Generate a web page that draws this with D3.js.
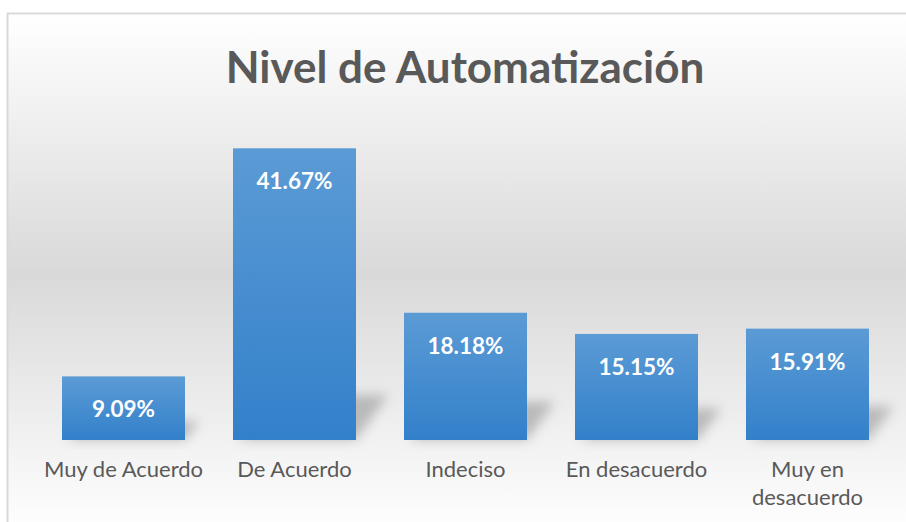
<!DOCTYPE html>
<html>
<head>
<meta charset="utf-8">
<script src="https://cdn.jsdelivr.net/npm/d3@7"></script>
<style>
  html, body { margin: 0; padding: 0; background: #ffffff; }
  svg { display: block; }
</style>
</head>
<body>
<div id="chart"></div>
<script>
// data
const categories = ['Muy de Acuerdo', 'De Acuerdo', 'Indeciso', 'En desacuerdo', 'Muy en desacuerdo'];
const values = [9.09, 41.67, 18.18, 15.15, 15.91];
const valueLabels = ['9.09%', '41.67%', '18.18%', '15.15%', '15.91%'];
const title = 'Nivel de Automatización';

const W = 906, H = 522;
const font = 'Lato, "Open Sans", sans-serif';

const svg = d3.select('#chart')
  .append('svg')
  .attr('width', W)
  .attr('height', H);

const defs = svg.append('defs');

// chart area background: white -> gray -> white
const bg = defs.append('linearGradient')
  .attr('id', 'bg')
  .attr('x1', 0).attr('y1', 0).attr('x2', 0).attr('y2', 1);
bg.append('stop').attr('offset', '0%').attr('stop-color', '#ffffff');
bg.append('stop').attr('offset', '50%').attr('stop-color', '#d9d9d9');
bg.append('stop').attr('offset', '100%').attr('stop-color', '#ffffff');

const barGrad = defs.append('linearGradient')
  .attr('id', 'barGrad')
  .attr('x1', 0).attr('y1', 0).attr('x2', 0).attr('y2', 1);
barGrad.append('stop').attr('offset', '0%').attr('stop-color', '#5b9bd5');
barGrad.append('stop').attr('offset', '100%').attr('stop-color', '#3380ca');

defs.append('filter')
  .attr('id', 'blur')
  .attr('x', '-50%').attr('y', '-50%').attr('width', '200%').attr('height', '200%')
  .append('feGaussianBlur')
  .attr('stdDeviation', 6);

// chart area with border
svg.append('rect')
  .attr('x', 7.5)
  .attr('y', 13.5)
  .attr('width', 940)
  .attr('height', 520)
  .attr('fill', 'url(#bg)')
  .attr('stroke', '#d9d9d9')
  .attr('stroke-width', 2);

// title
svg.append('text')
  .attr('x', 465)
  .attr('y', 83)
  .attr('text-anchor', 'middle')
  .attr('font-family', font)
  .attr('font-weight', 'bold')
  .attr('font-size', 44)
  .attr('fill', '#595959')
  .text(title);

// scales
const xScale = d3.scaleBand()
  .domain(categories)
  .range([38, 893])
  .paddingInner(48 / 171)
  .paddingOuter(24 / 171);

const yScale = d3.scaleLinear()
  .domain([0, 45])
  .range([440, 125]);

const base = yScale(0);

// perspective shadows behind bars
svg.selectAll('.shadow')
  .data(values)
  .enter()
  .append('path')
  .attr('class', 'shadow')
  .attr('d', (d, i) => {
    const x0 = xScale(categories[i]) + 6;
    const x1 = x0 + xScale.bandwidth() - 6;
    const h = base - yScale(d);
    const sh = Math.min(h * 0.3, 45);
    const dx = Math.min(h * 0.22, 32);
    return 'M' + x0 + ',' + base + 'L' + x1 + ',' + base +
      'L' + (x1 + dx) + ',' + (base - sh) + 'L' + (x0 + dx) + ',' + (base - sh) + 'Z';
  })
  .attr('fill', 'rgba(0,0,0,0.22)')
  .attr('filter', 'url(#blur)');

// bars
svg.selectAll('.bar')
  .data(values)
  .enter()
  .append('rect')
  .attr('class', 'bar')
  .attr('x', (d, i) => xScale(categories[i]))
  .attr('y', d => yScale(d))
  .attr('width', xScale.bandwidth())
  .attr('height', d => base - yScale(d))
  .attr('fill', 'url(#barGrad)');

// value labels inside bars
svg.selectAll('.label')
  .data(values)
  .enter()
  .append('text')
  .attr('class', 'label')
  .attr('x', (d, i) => xScale(categories[i]) + xScale.bandwidth() / 2)
  .attr('y', d => yScale(d) + 41)
  .attr('text-anchor', 'middle')
  .attr('font-family', font)
  .attr('font-weight', 'bold')
  .attr('font-size', 22.5)
  .attr('fill', '#ffffff')
  .text((d, i) => valueLabels[i]);

// x axis
const xAxis = svg.append('g')
  .attr('transform', 'translate(0,' + base + ')')
  .call(d3.axisBottom(xScale).tickSize(0).tickPadding(37));

xAxis.select('.domain').attr('stroke', 'none');
xAxis.selectAll('.tick text')
  .attr('font-family', font)
  .attr('font-size', 22)
  .attr('fill', '#595959')
  .attr('dy', 0)
  .call(wrap, 168);

function wrap(sel, width) {
  sel.each(function() {
    const text = d3.select(this);
    const words = text.text().split(' ');
    const y = text.attr('y');
    text.text(null);
    let line = [];
    let tspan = text.append('tspan').attr('x', 0).attr('y', y).attr('dy', 0);
    let lineNo = 0;
    words.forEach(w => {
      line.push(w);
      tspan.text(line.join(' '));
      if (tspan.node().getComputedTextLength() > width && line.length > 1) {
        line.pop();
        tspan.text(line.join(' '));
        line = [w];
        lineNo++;
        tspan = text.append('tspan').attr('x', 0).attr('y', y).attr('dy', lineNo * 28).text(w);
      }
    });
  });
}
</script>
</body>
</html>
